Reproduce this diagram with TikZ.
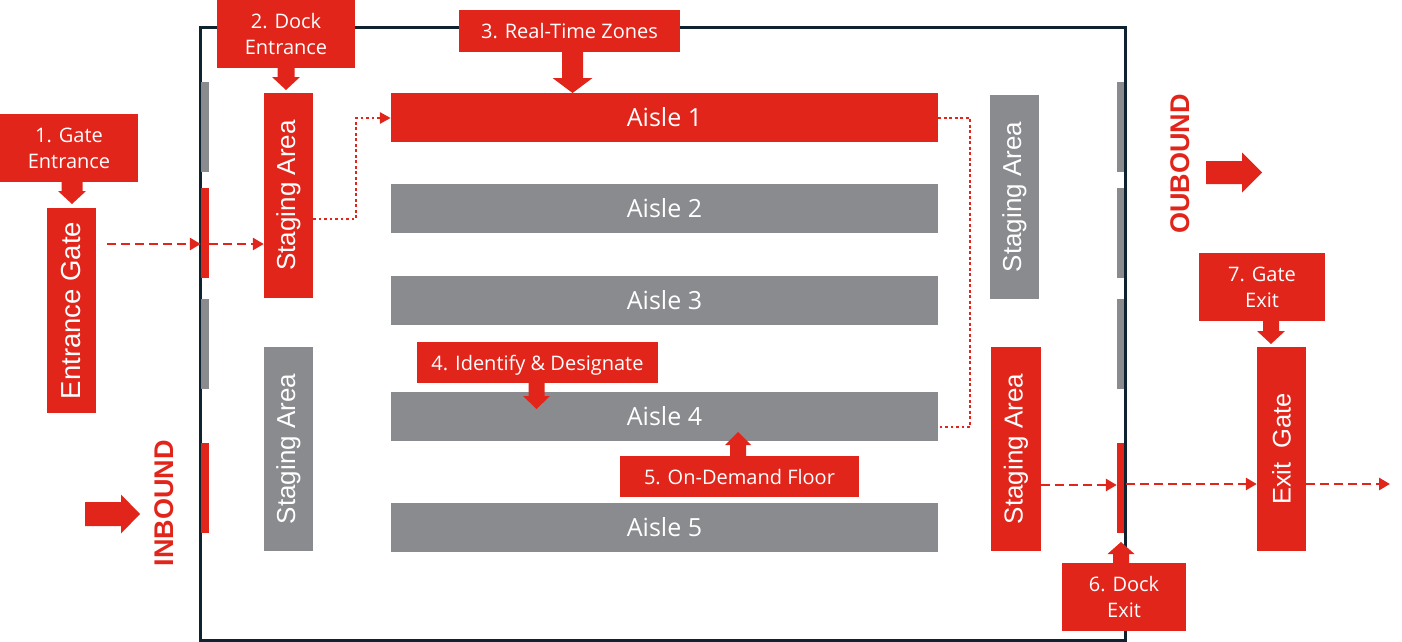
\documentclass[tikz,border=0pt]{standalone}
\usepackage{fontspec}
\usepackage{graphicx}
\setmainfont{Open Sans}
\newfontfamily\arialf{Liberation Sans}
\usetikzlibrary{arrows.meta}
\definecolor{myred}{HTML}{E1251B}
\definecolor{mygray}{HTML}{8A8B8F}
\definecolor{navy}{HTML}{0E2230}
% vertical block arrow: x, ystart, ytip, shaft half, head half, head length (negative = upward)
\newcommand\blkV[6]{%
  \fill[myred] ({#1-#4},#2) -- ({#1+#4},#2) -- ({#1+#4},{#3-(#6)}) -- ({#1+#5},{#3-(#6)}) -- (#1,#3) -- ({#1-#5},{#3-(#6)}) -- ({#1-#4},{#3-(#6)}) -- cycle;}
% horizontal block arrow: y, xstart, xtip, shaft half, head half, head length
\newcommand\blkH[6]{%
  \fill[myred] (#2,{#1-#4}) -- ({#3-(#6)},{#1-#4}) -- ({#3-(#6)},{#1-#5}) -- (#3,#1) -- ({#3-(#6)},{#1+#5}) -- ({#3-(#6)},{#1+#4}) -- (#2,{#1+#4}) -- cycle;}
\begin{document}
\begin{tikzpicture}[x=1pt,y=-1pt,
  lbl/.style={fill=myred, text=white, inner sep=0pt, align=center, text depth=0pt, font=\fontsize{20}{26}\selectfont},
  aisle/.style={fill=mygray, text=white, inner sep=0pt, minimum width=547, minimum height=49, font=\fontsize{25}{30}\selectfont},
  vbox/.style={text=white, inner sep=0pt, minimum width=49, minimum height=205, font=\arialf\fontsize{26}{30}\selectfont},
  door/.style={inner sep=0pt, minimum width=8, minimum height=90},
  bound/.style={rotate=90, text=myred, inner sep=0pt, font=\arialf\bfseries\fontsize{27}{30}\selectfont},
  flow/.style={myred, line width=2.7pt, dash pattern=on 9pt off 5pt, -{Triangle[length=11pt,width=12pt]}},
  dotflow/.style={myred, line width=2.8pt, dash pattern=on 2.8pt off 2.7pt}
]
\useasboundingbox (0,0) rectangle (1402,642);
% warehouse wall
\draw[navy, line width=3pt] (200,28) rectangle (1125,640);
% doors
\node[door, fill=mygray] (dL1) at (205,126.5) {};
\node[door, fill=myred]  (dL2) at (205,233) {};
\node[door, fill=mygray] (dL3) at (205,344) {};
\node[door, fill=myred]  (dL4) at (205,488) {};
\node[door, fill=mygray, minimum width=7] (dR1) at (1120.5,126.5) {};
\node[door, fill=mygray, minimum width=7] (dR2) at (1120.5,233) {};
\node[door, fill=mygray, minimum width=7] (dR3) at (1120.5,344) {};
\node[door, fill=myred,  minimum width=7] (dR4) at (1120.5,488) {};
% gates and staging areas
\node[vbox, fill=myred, font=\arialf\fontsize{27.5}{30}\selectfont] (entgate) at (71.5,310.5) {\rotatebox{90}{Entrance Gate}};
\node[vbox, fill=myred] (stL1) at (288.5,195.5) {\rotatebox{90}{Staging Area}};
\node[vbox, fill=mygray, minimum height=204] (stL2) at (288.5,449) {\rotatebox{90}{Staging Area}};
\node[vbox, fill=mygray, minimum height=204] (stR1) at (1014.5,197) {\rotatebox{90}{Staging Area}};
\node[vbox, fill=myred, minimum width=50, minimum height=204] (stR2) at (1016,449) {\rotatebox{90}{Staging Area}};
\node[vbox, fill=myred, minimum height=204, font=\arialf\fontsize{25.5}{30}\selectfont] (exitgate) at (1281.5,449) {\rotatebox{90}{Exit\ \ Gate}};
% aisles
\node[aisle, fill=myred] (a1) at (664.5,117.5) {Aisle 1};
\node[aisle] (a2) at (664.5,208.5) {Aisle 2};
\node[aisle] (a3) at (664.5,300.5) {Aisle 3};
\node[aisle] (a4) at (664.5,416.5) {Aisle 4};
\node[aisle] (a5) at (664.5,527.5) {Aisle 5};
% labels
\node[lbl, minimum width=138, minimum height=68] (l1) at (69,148) {1. Gate\\Entrance};
\node[lbl, minimum width=138, minimum height=68] (l2) at (286,34) {2. Dock\\Entrance};
\node[lbl, minimum width=221, minimum height=42] (l3) at (569.5,31) {3. Real-Time Zones};
\node[lbl, minimum width=241, minimum height=41] (l4) at (537.5,362.5) {4. Identify \& Designate};
\node[lbl, minimum width=239, minimum height=41] (l5) at (739.5,476.5) {5. On-Demand Floor};
\node[lbl, minimum width=124, minimum height=68] (l6) at (1124,597) {6. Dock\\Exit};
\node[lbl, minimum width=126, minimum height=68] (l7) at (1262,287) {7. Gate\\Exit};
% inbound / outbound
\node[bound] (inb) at (164,503) {INBOUND};
\node[bound] (outb) at (1180,164) {OUBOUND};
\blkH{514}{85}{140}{12}{19.5}{19}
\blkH{172.5}{1206}{1262}{11.5}{20}{20}
% label arrows
\blkV{72}{182}{204}{10.5}{14}{13}
\blkV{286}{68}{90}{8.5}{14}{13}
\blkV{572.5}{52}{93}{10.5}{20}{15}
\blkV{536.5}{383}{409}{8}{13.5}{13}
\blkV{738}{456}{432}{8}{13}{-13}
\blkV{1121}{563}{542}{8}{13.5}{-12}
\blkV{1271}{321}{344}{8}{14}{13}
% flows
\coordinate (e0) at (107,244);
\draw[flow] (e0) -- (e0 -| dL2.west);
\draw[flow] (e0 -| dL2.east) -- (e0 -| stL1.west);
\coordinate (s0) at (313,219);
\draw[dotflow, -{Triangle[length=11pt,width=11pt]}] (s0) -| (356,118) -- (a1.west |- 0,118);
\coordinate (r0) at (970,427);
\draw[dotflow] (a1.east |- 0,118) -| (r0) -- (a4.east |- r0);
\coordinate (x0) at (1041,485);
\draw[flow] (x0) -- (x0 -| dR4.west);
\coordinate (x1) at (1126,484);
\draw[flow] (x1) -- (x1 -| exitgate.west);
\coordinate (x2) at (1390,484);
\draw[flow] (x1 -| exitgate.east) -- (x2);
\end{tikzpicture}
\end{document}
